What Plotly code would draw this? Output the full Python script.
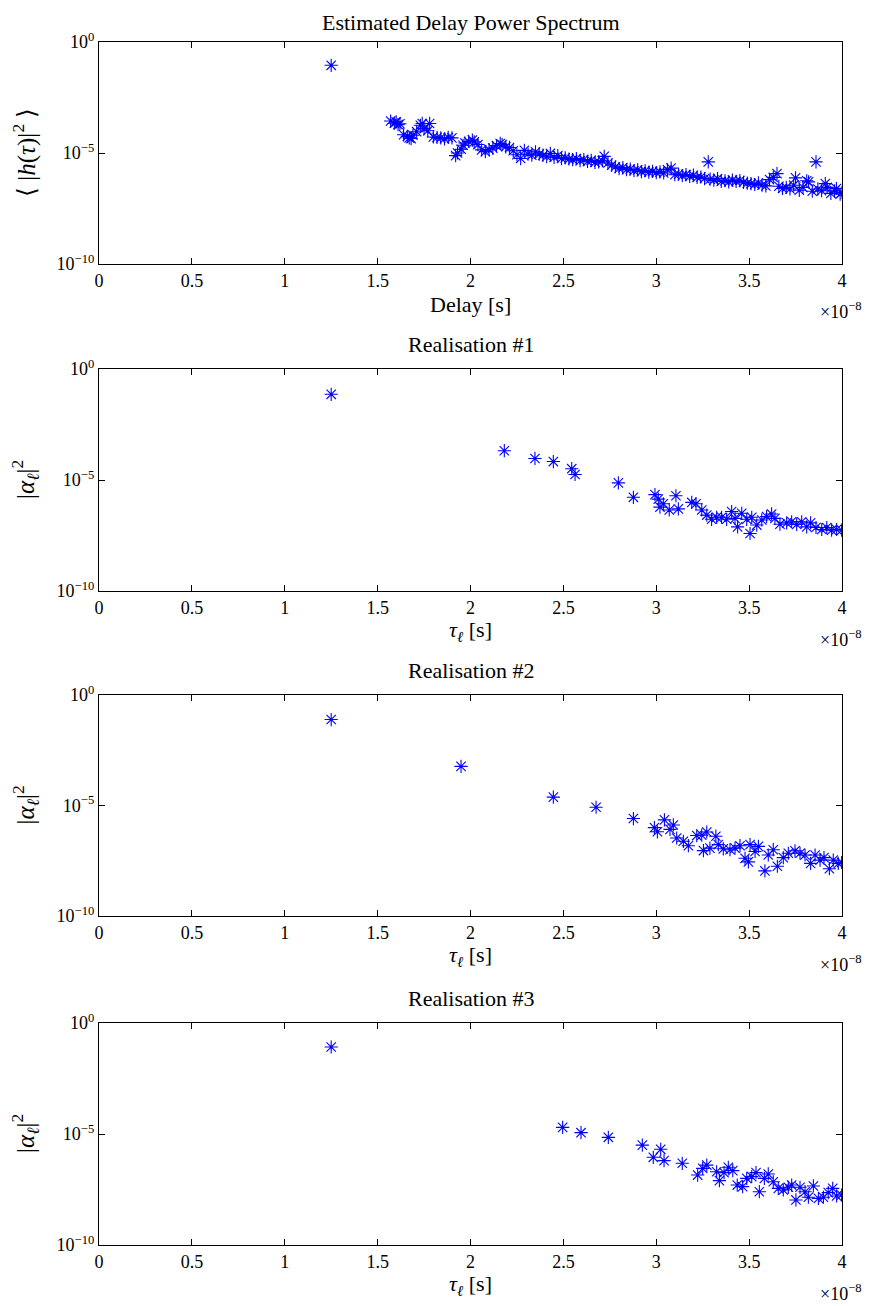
import plotly.graph_objects as go

# ---------------- data (delay in units of 1e-8 s, power as log10 exponent) ----------------
pds_delay = [1.25,
    1.57, 1.59, 1.60, 1.61, 1.62, 1.64, 1.66, 1.67, 1.68, 1.69, 1.71, 1.73, 1.74, 1.75, 1.77, 1.78,
    1.80, 1.82, 1.84, 1.86, 1.88, 1.90, 1.92, 1.93, 1.95, 1.96, 1.97, 1.99, 2.01, 2.02, 2.04, 2.06,
    2.08, 2.10, 2.12, 2.14, 2.16, 2.17, 2.19, 2.21, 2.23, 2.25, 2.27, 2.29, 2.31, 2.33, 2.35, 2.37,
    2.39, 2.41, 2.43, 2.45, 2.47, 2.49, 2.51, 2.53, 2.55, 2.57, 2.59, 2.61, 2.63, 2.65, 2.67, 2.69,
    2.71, 2.72, 2.74, 2.76, 2.78, 2.80, 2.82, 2.84, 2.86, 2.88, 2.90, 2.92, 2.94, 2.96, 2.98, 3.00,
    3.02, 3.04, 3.06, 3.08, 3.10, 3.12, 3.14, 3.16, 3.18, 3.20, 3.22, 3.24, 3.26, 3.28, 3.29, 3.31,
    3.33, 3.35, 3.37, 3.39, 3.41, 3.43, 3.45, 3.47, 3.49, 3.51, 3.53, 3.55, 3.57, 3.59, 3.61, 3.63,
    3.65, 3.66, 3.68, 3.70, 3.72, 3.74, 3.75, 3.77, 3.79, 3.81, 3.82, 3.84, 3.86, 3.87, 3.89, 3.91,
    3.92, 3.94, 3.96, 3.97, 3.99, 4.00]
pds_exp = [-1.05,
    -3.56, -3.66, -3.60, -3.72, -3.68, -4.18, -4.25, -4.32, -4.35, -4.20, -4.04, -3.75, -3.67, -3.90, -4.00, -3.67,
    -4.28, -4.30, -4.32, -4.36, -4.30, -4.32, -5.12, -5.00, -4.83, -4.65, -4.55, -4.48, -4.42, -4.50, -4.62, -4.86,
    -4.94, -4.85, -4.78, -4.67, -4.57, -4.62, -4.72, -4.75, -4.90, -5.08, -5.25, -4.88, -5.05, -5.10, -4.95, -5.05,
    -5.10, -5.17, -5.02, -5.20, -5.12, -5.25, -5.22, -5.27, -5.30, -5.25, -5.35, -5.30, -5.38, -5.33, -5.42, -5.40,
    -5.35, -5.15, -5.45, -5.55, -5.62, -5.70, -5.66, -5.75, -5.72, -5.80, -5.76, -5.84, -5.80, -5.86, -5.83, -5.88,
    -5.85, -5.90, -5.75, -5.68, -5.98, -5.95, -6.02, -5.97, -6.05, -6.00, -6.10, -6.08, -6.15, -5.40, -6.18, -6.22,
    -6.15, -6.28, -6.25, -6.30, -6.22, -6.28, -6.24, -6.32, -6.36, -6.38, -6.42, -6.35, -6.45, -6.48, -6.20, -6.10,
    -5.93, -6.50, -6.60, -6.55, -6.62, -6.45, -6.12, -6.68, -6.55, -6.25, -6.30, -6.72, -5.40, -6.62, -6.70, -6.38,
    -6.55, -6.82, -6.70, -6.60, -6.85, -6.78]

r1_delay = [1.25, 2.182, 2.347, 2.446, 2.545, 2.563, 2.796, 2.877, 2.993, 3.011, 3.020, 3.038, 3.070,
    3.106, 3.119, 3.191, 3.214, 3.245, 3.272, 3.298, 3.325, 3.352, 3.379, 3.406, 3.424, 3.438, 3.460,
    3.487, 3.514, 3.505, 3.541, 3.568, 3.594, 3.621, 3.639, 3.666, 3.702, 3.729, 3.756, 3.783, 3.810,
    3.831, 3.860, 3.891, 3.918, 3.944, 3.971, 3.998]
r1_exp = [-1.14, -3.68, -4.03, -4.17, -4.49, -4.75, -5.13, -5.78, -5.66, -5.86, -6.22, -6.07, -6.35,
    -5.71, -6.30, -6.01, -6.07, -6.35, -6.58, -6.77, -6.68, -6.68, -6.77, -6.42, -6.73, -7.11, -6.50,
    -6.77, -6.68, -7.41, -7.03, -6.80, -6.65, -6.53, -6.73, -6.99, -6.93, -6.88, -7.00, -6.88, -7.11,
    -6.93, -7.14, -7.23, -7.14, -7.26, -7.23, -7.26]

r2_delay = [1.25, 1.949, 2.446, 2.676, 2.877, 2.990, 3.006, 3.044, 3.074, 3.092, 3.110, 3.146, 3.173,
    3.218, 3.245, 3.272, 3.254, 3.289, 3.321, 3.334, 3.361, 3.397, 3.424, 3.451, 3.478, 3.496, 3.505,
    3.532, 3.550, 3.585, 3.603, 3.630, 3.652, 3.684, 3.711, 3.747, 3.774, 3.801, 3.831, 3.855, 3.882,
    3.903, 3.932, 3.953, 3.980, 3.998]
r2_exp = [-1.11, -3.23, -4.62, -5.08, -5.59, -6.00, -6.19, -5.65, -6.08, -5.88, -6.47, -6.62, -6.82,
    -6.36, -6.34, -6.20, -7.04, -6.93, -6.39, -6.77, -6.96, -7.00, -6.93, -6.82, -7.39, -7.55, -6.77,
    -7.08, -6.85, -7.96, -7.24, -7.00, -7.75, -7.36, -7.16, -7.05, -7.16, -7.24, -7.62, -7.24, -7.47,
    -7.36, -7.86, -7.47, -7.62, -7.58]

r3_delay = [1.25, 2.496, 2.595, 2.742, 2.925, 2.984, 3.024, 3.042, 3.140, 3.223, 3.250, 3.272, 3.325,
    3.340, 3.365, 3.388, 3.412, 3.436, 3.465, 3.487, 3.514, 3.537, 3.555, 3.582, 3.603, 3.630, 3.657,
    3.684, 3.711, 3.729, 3.752, 3.774, 3.801, 3.819, 3.846, 3.873, 3.900, 3.926, 3.950, 3.971, 3.998]
r3_exp = [-1.08, -4.70, -4.94, -5.15, -5.50, -6.05, -5.69, -6.20, -6.32, -6.85, -6.55, -6.40, -6.70,
    -7.10, -6.74, -6.50, -6.65, -7.30, -7.37, -7.00, -6.92, -6.74, -7.60, -7.00, -6.80, -7.15, -7.45,
    -7.52, -7.40, -7.30, -7.97, -7.40, -7.60, -7.85, -7.34, -7.90, -7.85, -7.64, -7.45, -7.79, -7.75]

x_ticks = [0, 0.5, 1, 1.5, 2, 2.5, 3, 3.5, 4]
x_tick_text = ["0", "0.5", "1", "1.5", "2", "2.5", "3", "3.5", "4"]
y_ticks = [1, 1e-5, 1e-10]
y_tick_text = ["10<sup>0</sup>", "10<sup>−5</sup>", "10<sup>−10</sup>"]

titles = ["Estimated Delay Power Spectrum", "Realisation #1", "Realisation #2", "Realisation #3"]
xlabels = ["Delay [s]", "<i>τ</i><sub><i>ℓ</i></sub> [s]", "<i>τ</i><sub><i>ℓ</i></sub> [s]", "<i>τ</i><sub><i>ℓ</i></sub> [s]"]
ylabels = ["⟨ |<i>h</i>(<i>τ</i>)|<sup>2</sup> ⟩", "|<i>α</i><sub><i>ℓ</i></sub>|<sup>2</sup>",
           "|<i>α</i><sub><i>ℓ</i></sub>|<sup>2</sup>", "|<i>α</i><sub><i>ℓ</i></sub>|<sup>2</sup>"]
ylabel_sizes = [25, 25, 25, 25]

series = [(pds_delay, pds_exp), (r1_delay, r1_exp), (r2_delay, r2_exp), (r3_delay, r3_exp)]

# ---------------- layout geometry (page pixels; page body has an 8px margin) ----------------
OFF = 8
W, H = 872 - OFF, 1306 - OFF
x_left, x_right = 99, 842
panel_px = [(42, 264), (369, 591), (695, 916), (1023, 1245)]
FONT = "Liberation Serif"

fig = go.Figure()
annotations = []

def px_x(p):
    return (p - OFF) / W

def px_y(p):
    return 1 - (p - OFF) / H

def note(text, x, y, size, xanchor="center", angle=0):
    return dict(text=text, x=px_x(x), y=px_y(y), xref="paper", yref="paper",
                xanchor=xanchor, yanchor="middle", textangle=angle, showarrow=False,
                font=dict(family=FONT, size=size, color="black"))

for i, ((xs, es), (top, bot)) in enumerate(zip(series, panel_px)):
    n = "" if i == 0 else str(i + 1)
    vals = [10 ** e for e in es]
    fig.add_trace(go.Scatter(
        x=xs, y=vals, mode="markers",
        marker=dict(symbol="asterisk-open", size=11, color="#0000ff",
                    line=dict(color="#0000ff", width=1.1)),
        xaxis="x" + n, yaxis="y" + n, showlegend=False, hoverinfo="x+y"))
    axis_common = dict(showline=True, linecolor="black", linewidth=1.3, mirror="ticks",
                       ticks="inside", ticklen=6, tickcolor="black", showgrid=False,
                       zeroline=False, automargin=False,
                       tickfont=dict(family=FONT, size=18, color="black"))
    fig.update_layout(**{
        "xaxis" + n: dict(domain=[px_x(x_left), px_x(x_right)], range=[0, 4],
                          anchor="y" + n, tickvals=x_ticks, ticktext=x_tick_text, **axis_common),
        "yaxis" + n: dict(domain=[px_y(bot), px_y(top)], type="log", range=[-10, 0],
                          anchor="x" + n, tickvals=y_ticks, ticktext=y_tick_text, **axis_common),
    })
    cx = (x_left + x_right) / 2
    annotations.append(note(titles[i], cx, top - 20 if i == 0 else top - 25, 22))
    annotations.append(note(xlabels[i], cx, bot + 40, 22))
    annotations.append(note("×10<sup>−8</sup>", 864, bot + 47, 18, xanchor="right"))
    annotations.append(note(ylabels[i], 25, (top + bot) / 2, ylabel_sizes[i], angle=-90))

fig.update_layout(template="none", width=W, height=H, margin=dict(l=0, r=0, t=0, b=0),
                  paper_bgcolor="white", plot_bgcolor="white", annotations=annotations,
                  font=dict(family=FONT, color="black"))

fig.write_html("out.html")
